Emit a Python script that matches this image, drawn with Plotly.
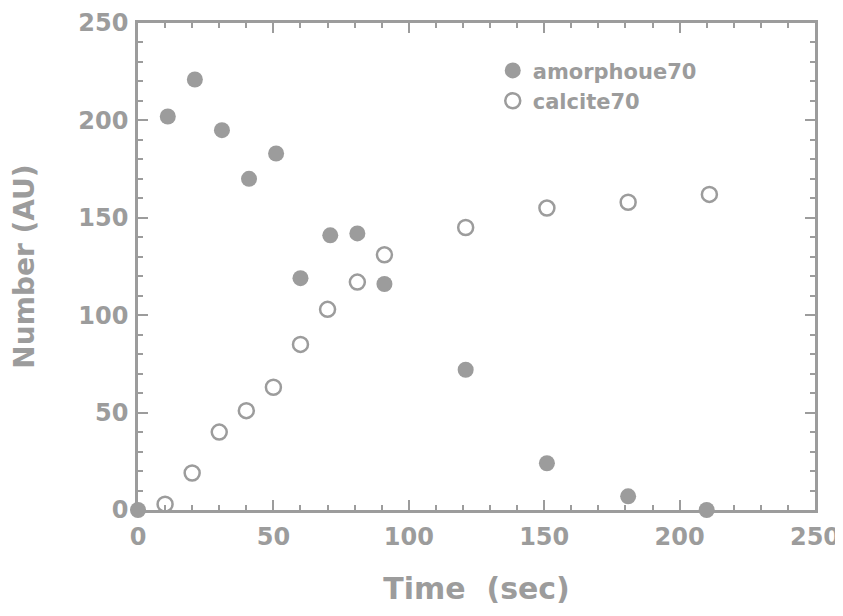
import plotly.graph_objects as go

# amorphous phase (filled circles)
amorph_time = [0, 11, 21, 31, 41, 51, 60, 71, 81, 91, 121, 151, 181, 210]
amorph_num = [0, 202, 221, 195, 170, 183, 119, 141, 142, 116, 72, 24, 7, 0]

# calcite phase (open circles)
calcite_time = [10, 20, 30, 40, 50, 60, 70, 81, 91, 121, 151, 181, 211]
calcite_num = [3, 19, 40, 51, 63, 85, 103, 117, 131, 145, 155, 158, 162]

GRAY = "#9c9c9c"
FONT = "DejaVu Sans, sans-serif"

fig = go.Figure()
fig.add_trace(go.Scatter(x=amorph_time, y=amorph_num, mode="markers",
                         name="amorphoue70", cliponaxis=False,
                         marker=dict(symbol="circle", size=16, color=GRAY)))
fig.add_trace(go.Scatter(x=calcite_time, y=calcite_num, mode="markers",
                         name="calcite70", cliponaxis=False,
                         marker=dict(symbol="circle-open", size=15, color=GRAY,
                                     line=dict(width=2.5, color=GRAY))))

axis_style = dict(
    showline=True, linecolor=GRAY, linewidth=2.5, mirror="ticks",
    ticks="inside", ticklen=10, tickwidth=2, tickcolor=GRAY,
    minor=dict(ticks="inside", dtick=10, ticklen=5, tickwidth=1.5, tickcolor=GRAY),
    showgrid=False, zeroline=False, automargin=False,
    ticklabeloverflow="allow",
    tickfont=dict(family=FONT, size=24, color=GRAY, weight="bold"),
    range=[0, 250], dtick=50,
)

fig.update_xaxes(**axis_style, ticklabelstandoff=3)
fig.update_yaxes(**axis_style, ticklabelstandoff=2)
fig.update_xaxes(title=dict(text="<b>Time\u00a0 (sec)</b>", standoff=29,
                            font=dict(family=FONT, size=30, color=GRAY)))
fig.update_yaxes(title=dict(text="<b>Number (AU)</b>", standoff=42,
                            font=dict(family=FONT, size=28, color=GRAY)))

# page body adds an 8px offset, so the figure is 8px smaller than the window
fig.update_layout(
    width=835, height=608,
    margin=dict(l=130, r=28, t=15, b=106),
    plot_bgcolor="white", paper_bgcolor="white",
    font=dict(family=FONT, color=GRAY),
    legend=dict(x=0.524, y=0.944, xanchor="left", yanchor="top",
                bgcolor="rgba(0,0,0,0)",
                font=dict(family=FONT, size=21, color=GRAY, weight="bold"),
                tracegroupgap=0, itemwidth=30),
)

fig.write_html("out.html")
